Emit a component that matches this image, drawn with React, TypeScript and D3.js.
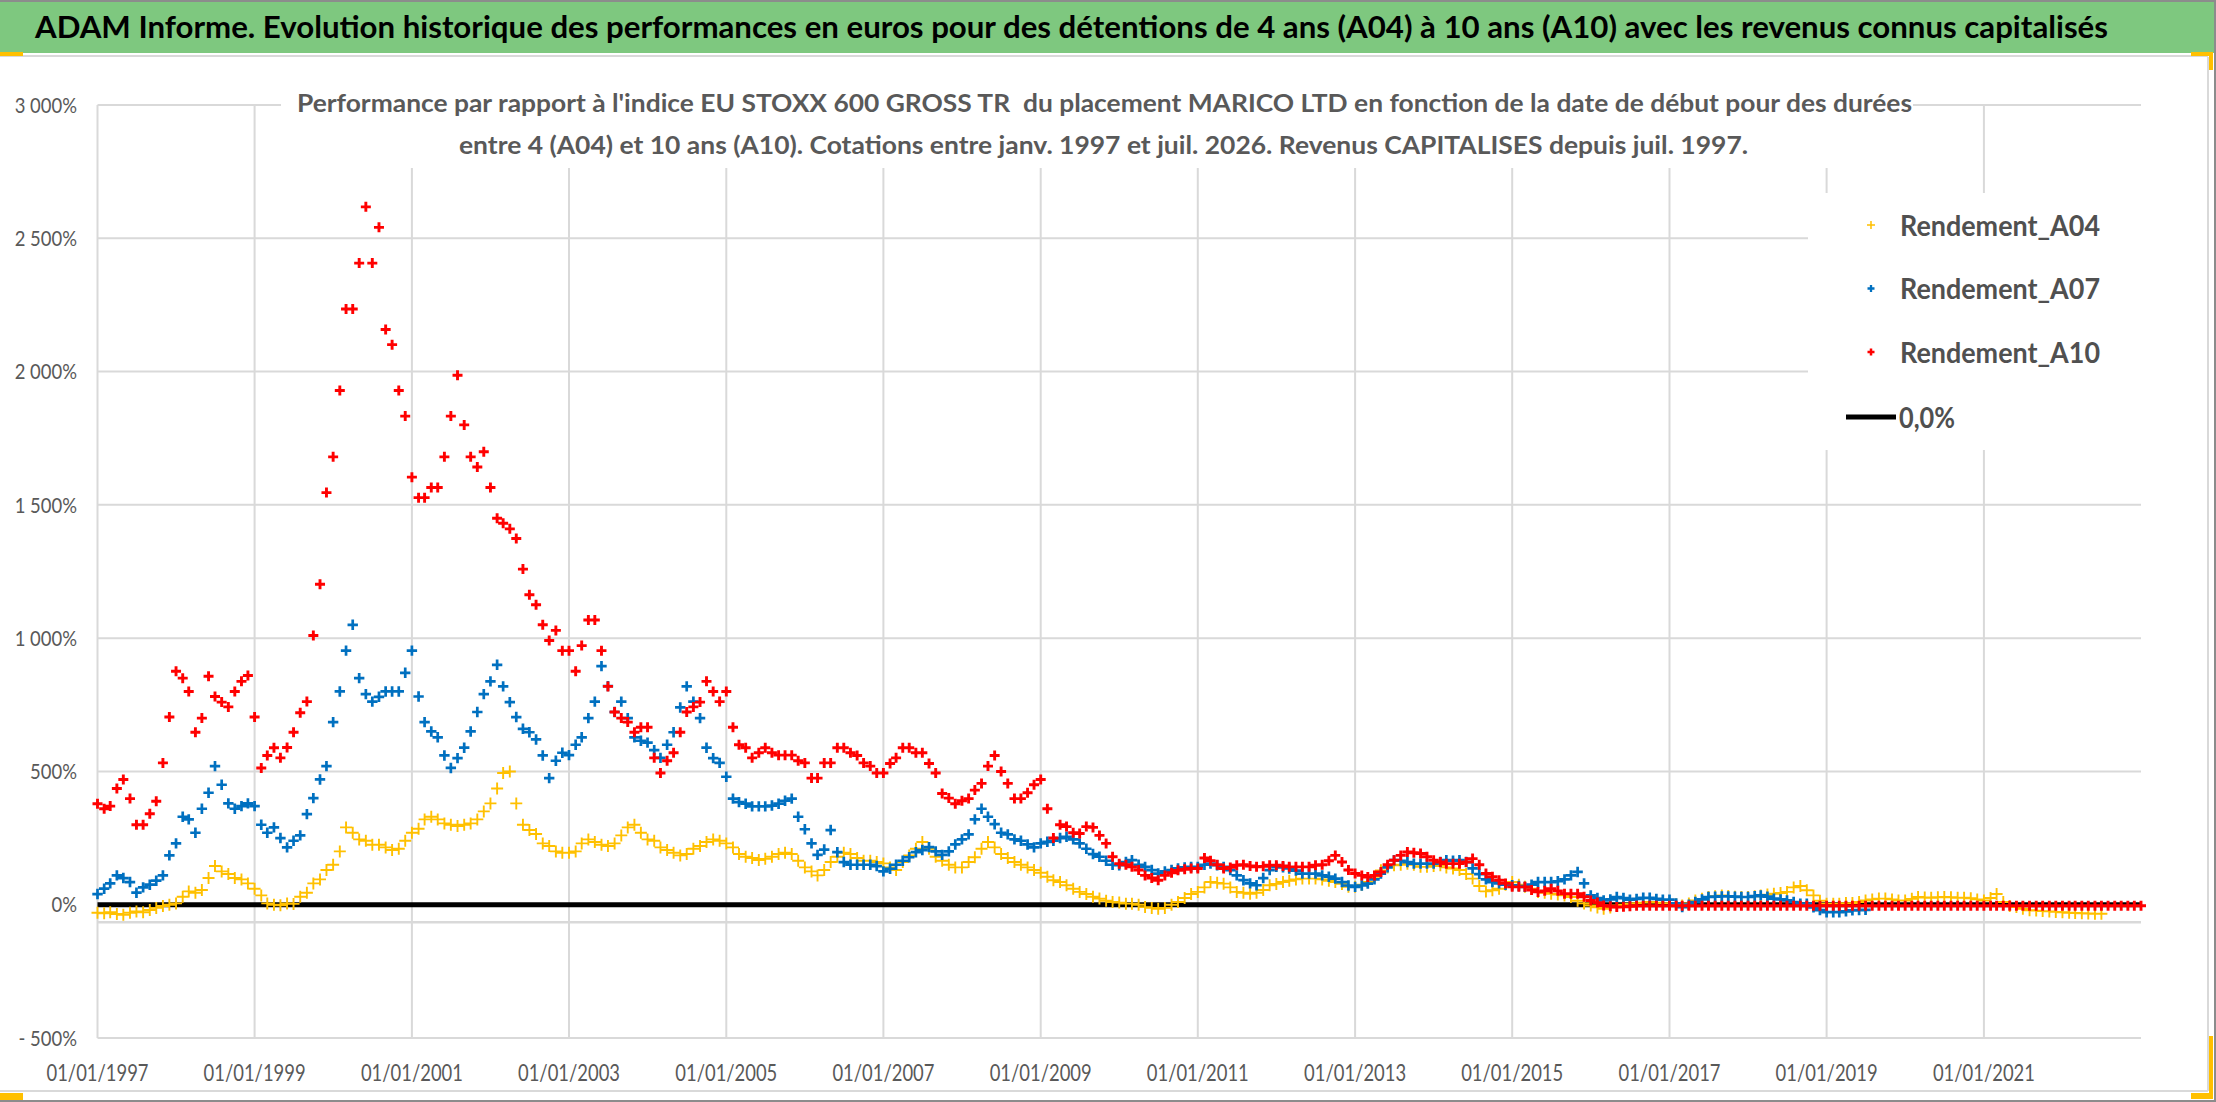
import React from "react";
import * as d3 from "d3";

const WIDTH = 2216;
const HEIGHT = 1102;

const titleText =
  "ADAM Informe. Evolution historique des performances en euros pour des détentions de 4 ans (A04) à 10 ans (A10) avec les revenus connus capitalisés";
const subtitleLines = [
  "Performance par rapport à l'indice EU STOXX 600 GROSS TR  du placement MARICO LTD en fonction de la date de début pour des durées",
  "entre 4 (A04) et 10 ans (A10). Cotations entre janv. 1997 et juil. 2026. Revenus CAPITALISES depuis juil. 1997.",
];
const seriesNames = ["Rendement_A04", "Rendement_A07", "Rendement_A10"];
const zeroSeriesName = "0,0%";
const seriesColors = ["#FFC000", "#0070C0", "#FF0000"];
const yTickValues = [-500, 0, 500, 1000, 1500, 2000, 2500, 3000];
const xTickYears = [1997, 1999, 2001, 2003, 2005, 2007, 2009, 2011, 2013, 2015, 2017, 2019, 2021];
const xDomainYears = [1997, 2023];
const yDomain = [-500, 3000];
const axisCrossValue = -66;
const zeroValue = 0;

// monthly values (%), first value = January 1997
const a04 = [
  -30, -32, -28, -35, -38, -30, -25, -28, -20, -12, -5, 0,
  5, 30, 50, 45, 55, 100, 145, 125, 115, 100, 95, 80,
  60, 35, 5, 0, -2, 5, 3, 30, 45, 80, 95, 130,
  150, 200, 290, 270, 245, 240, 225, 225, 215, 205, 210, 240,
  270, 285, 320, 330, 320, 305, 300, 295, 300, 305, 320, 350,
  380, 436, 494, 500, 380, 300, 280, 265, 230, 220, 200, 195,
  195, 200, 230, 245, 235, 225, 220, 230, 260, 290, 300, 270,
  245, 240, 215, 205, 195, 185, 190, 210, 220, 235, 245, 240,
  230, 215, 190, 180, 175, 168, 172, 180, 190, 195, 190, 165,
  140, 125, 110, 130, 160, 180, 195, 190, 175, 165, 165, 160,
  155, 140, 130, 160, 185, 210, 235, 210, 180, 165, 150, 140,
  140, 160, 178, 210, 235, 215, 190, 175, 160, 150, 140, 130,
  120, 105, 92, 85, 73, 60, 48, 40, 30, 23, 15, 10,
  8, 4, 4, 0, -9, -12, -15, -12, 0, 10, 25, 40,
  48, 65, 85, 82, 79, 65, 48, 45, 41, 45, 55, 73,
  78, 85, 90, 95, 98, 98, 98, 95, 90, 85, 78, 67,
  67, 75, 85, 105, 129, 140, 148, 150, 154, 150, 142, 142,
  145, 148, 140, 136, 130, 115, 98, 70, 50, 54, 60, 75,
  85, 75, 67, 60, 48, 45, 41, 38, 35, 29, 15, 5,
  -3, -10, -15, -10, -3, 0, 4, 6, 8, 10, 8, 6,
  6, 2, -3, 5, 16, 22, 29, 32, 35, 33, 30, 29,
  29, 32, 35, 38, 41, 44, 48, 65, 70, 54, 35, 15,
  4, 4, 4, 6, 6, 10, 16, 20, 23, 23, 20, 16,
  16, 22, 29, 27, 26, 28, 29, 28, 26, 26, 24, 20,
  16, 25, 40, 10, -5, -9, -15, -21, -22, -24, -25, -27,
  -28, -30, -31, -32, -33, -34, -34,
];

const a07 = [
  40, 60, 80, 110, 100, 85, 45, 65, 75, 90, 110, 185,
  230, 330, 320, 270, 360, 420, 520, 450, 380, 360, 370, 380,
  370, 300, 270, 290, 250, 215, 240, 260, 340, 400, 470, 520,
  685, 800, 953, 1050, 850, 790, 762, 780, 800, 800, 800, 870,
  953, 781, 685, 650, 628, 560, 513, 550, 589, 650, 723, 790,
  838, 900, 819, 760, 704, 660, 647, 620, 560, 475, 540, 570,
  561, 600, 628, 700, 762, 895, 820, 723, 762, 700, 628, 615,
  608, 580, 551, 600, 647, 740, 819, 762, 700, 589, 550, 532,
  480, 398, 385, 379, 369, 369, 369, 372, 379, 390, 398, 330,
  283, 230, 187, 207, 280, 197, 160, 150, 150, 150, 150, 145,
  125, 135, 150, 165, 178, 197, 205, 216, 200, 187, 200, 226,
  245, 264, 320, 360, 330, 302, 270, 264, 245, 240, 226, 215,
  230, 236, 240, 250, 255, 245, 230, 210, 190, 180, 165, 150,
  148, 160, 167, 150, 142, 130, 117, 125, 130, 136, 140, 142,
  142, 150, 154, 148, 142, 130, 110, 92, 80, 73, 100, 130,
  142, 140, 136, 128, 117, 117, 117, 110, 105, 98, 85, 72,
  67, 72, 79, 95, 117, 140, 167, 165, 160, 154, 154, 154,
  154, 160, 167, 165, 167, 160, 136, 115, 95, 85, 80, 75,
  73, 70, 67, 75, 85, 85, 85, 88, 95, 110, 123, 80,
  35, 25, 16, 20, 29, 25, 19, 22, 26, 26, 22, 19,
  19, 5, -9, 0, 10, 20, 29, 30, 31, 31, 30, 29,
  29, 32, 35, 30, 23, 20, 16, 10, 4, 4, -10, -20,
  -28, -28, -28, -25, -21, -20, -19,
];

const a10 = [
  379, 360, 370, 436, 470, 398, 300, 300, 341, 388, 532, 704,
  876, 850, 800, 647, 700, 857, 781, 760, 742, 800, 838, 860,
  704, 513, 560, 589, 551, 590, 647, 720, 762, 1010, 1202, 1546,
  1680, 1929, 2235, 2235, 2407, 2618, 2407, 2541, 2158, 2101, 1929, 1833,
  1604, 1527, 1527, 1565, 1565, 1680, 1833, 1986, 1800, 1680, 1642, 1699,
  1565, 1450, 1431, 1410, 1374, 1259, 1163, 1125, 1050, 991, 1029, 953,
  953, 876, 972, 1068, 1068, 953, 819, 723, 700, 685, 647, 666,
  666, 551, 494, 540, 570, 647, 723, 742, 760, 838, 800, 762,
  800, 666, 600, 589, 551, 570, 589, 570, 561, 561, 561, 540,
  532, 475, 475, 532, 532, 589, 589, 570, 560, 532, 520, 494,
  494, 530, 551, 589, 589, 570, 570, 530, 494, 417, 400, 379,
  390, 398, 430, 455, 520, 560, 500, 455, 398, 398, 420, 450,
  470, 360, 250, 300, 293, 270, 267, 293, 290, 260, 230, 180,
  154, 150, 142, 130, 110, 100, 92, 110, 120, 129, 133, 136,
  136, 175, 165, 150, 136, 140, 148, 150, 145, 142, 144, 148,
  148, 145, 142, 142, 142, 142, 148, 150, 165, 185, 160, 130,
  117, 110, 104, 110, 123, 150, 167, 185, 198, 195, 192, 180,
  167, 160, 154, 154, 154, 160, 173, 150, 117, 105, 92, 80,
  67, 67, 67, 55, 48, 52, 60, 52, 41, 41, 41, 30,
  16, 8, -3, -6, -9, -8, -6, -4, -4, -4, -4, -4,
  -4, -4, -4, -4, -4, -4, -4, -4, -4, -4, -4, -4,
  -4, -4, -4, -4, -4, -4, -4, -4, -4, -4, -4, -4,
  -4, -4, -4, -4, -4, -4, -4, -4, -4, -4, -4, -4,
  -4, -4, -4, -4, -4, -4, -4, -4, -4, -4, -4, -4,
  -4, -4, -4, -4, -4, -4, -4, -4, -4, -4, -4, -4,
  -4, -4, -4, -4, -4, -4, -4, -4, -4, -4, -4, -4,
  -4,
];

const seriesValues = [a04, a07, a10];

const FONT = "Lato, 'Open Sans', 'DejaVu Sans', sans-serif";
const PLOT = { left: 97.5, right: 2141, top: 105, bottom: 1038 };
const MARKERS = [
  { half: 6, width: 1.9, legendHalf: 4 },
  { half: 5.2, width: 2.7, legendHalf: 3.5 },
  { half: 5, width: 2.9, legendHalf: 3.5 },
];

const locale = d3.formatLocale({
  decimal: ",",
  thousands: " ",
  grouping: [3],
  currency: ["", " €"],
  minus: "- ",
});
const fmtInt = locale.format(",");
const fmtY = (v: number) => fmtInt(v) + "%";
const fmtX = d3.timeFormat("%d/%m/%Y");

export default function App() {
  const x = d3
    .scaleTime()
    .domain([new Date(xDomainYears[0], 0, 1), new Date(xDomainYears[1], 0, 1)])
    .range([PLOT.left, PLOT.right]);
  const y = d3.scaleLinear().domain(yDomain).range([PLOT.bottom, PLOT.top]);
  const start = new Date(xDomainYears[0], 0, 1);

  const crossPath = (vals: number[], half: number) =>
    vals
      .map((v, i) => {
        const px = x(d3.timeMonth.offset(start, i));
        const py = y(v);
        return `M${px - half},${py}H${px + half}M${px},${py - half}V${py + half}`;
      })
      .join("");

  const xTicks = xTickYears.map((yr) => new Date(yr, 0, 1));
  const grid = "#D9D9D9";
  const textGray = "#595959";

  return (
    <svg
      width={WIDTH}
      height={HEIGHT}
      viewBox={`0 0 ${WIDTH} ${HEIGHT}`}
      style={{ position: "absolute", left: 0, top: 0, background: "#fff", fontFamily: FONT }}
    >
      <rect x={0} y={0} width={WIDTH} height={HEIGHT} fill="#fff" />

      {/* gridlines */}
      {xTicks.map((d, i) => (
        <line key={"vx" + i} x1={x(d)} x2={x(d)} y1={PLOT.top} y2={PLOT.bottom} stroke={grid} strokeWidth={2} />
      ))}
      {yTickValues.map((v) => (
        <line key={"hy" + v} x1={PLOT.left} x2={PLOT.right} y1={y(v)} y2={y(v)} stroke={grid} strokeWidth={2} />
      ))}
      <line
        x1={PLOT.left}
        x2={PLOT.right}
        y1={y(axisCrossValue)}
        y2={y(axisCrossValue)}
        stroke={grid}
        strokeWidth={2.5}
      />

      {/* zero line */}
      <line
        x1={x(new Date(xDomainYears[0], 0, 1))}
        x2={x(new Date(xDomainYears[1], 0, 1))}
        y1={y(zeroValue)}
        y2={y(zeroValue)}
        stroke="#000"
        strokeWidth={5}
      />

      {/* series */}
      {seriesValues.map((vals, si) => (
        <path
          key={"s" + si}
          d={crossPath(vals, MARKERS[si].half)}
          stroke={seriesColors[si]}
          strokeWidth={MARKERS[si].width}
          fill="none"
        />
      ))}

      {/* subtitle box */}
      <rect x={281} y={70} width={1632} height={98} fill="#fff" />
      {subtitleLines.map((t, i) => (
        <text
          key={"st" + i}
          x={i === 0 ? 297 : 459}
          y={i === 0 ? 112 : 154}
          fontSize={24}
          fontWeight="bold"
          fill={textGray}
          textLength={i === 0 ? 1615 : 1289}
          lengthAdjust="spacingAndGlyphs"
          style={{ whiteSpace: "pre" }}
        >
          {t}
        </text>
      ))}

      {/* legend */}
      <rect x={1808} y={193} width={336} height={257} fill="#fff" />
      {seriesNames.map((n, i) => {
        const cy = 225 + i * 63.5;
        const h = MARKERS[i].legendHalf;
        return (
          <g key={"lg" + i}>
            <path
              d={`M${1871 - h},${cy}H${1871 + h}M1871,${cy - h}V${cy + h}`}
              stroke={seriesColors[i]}
              strokeWidth={MARKERS[i].width - 0.4}
            />
            <text
              x={1900}
              y={cy + 10.5}
              fontSize={29}
              fontWeight="bold"
              fill="#505050"
              textLength={200}
              lengthAdjust="spacingAndGlyphs"
            >
              {n}
            </text>
          </g>
        );
      })}
      <line x1={1846} x2={1896} y1={417} y2={417} stroke="#000" strokeWidth={5} />
      <text
        x={1899}
        y={428}
        fontSize={29}
        fontWeight="bold"
        fill="#505050"
        textLength={56}
        lengthAdjust="spacingAndGlyphs"
      >
        {zeroSeriesName}
      </text>

      {/* y axis labels */}
      {yTickValues.map((v) => (
        <text
          key={"yl" + v}
          transform={`translate(77,${y(v)}) scale(0.84,1)`}
          textAnchor="end"
          dy="0.35em"
          fontSize={22}
          fill={textGray}
        >
          {fmtY(v)}
        </text>
      ))}

      {/* x axis labels */}
      {xTicks.map((d, i) => (
        <text
          key={"xl" + i}
          x={x(d)}
          y={1081}
          textAnchor="middle"
          fontSize={23}
          fill={textGray}
          textLength={102}
          lengthAdjust="spacingAndGlyphs"
        >
          {fmtX(d)}
        </text>
      ))}

      {/* title bar */}
      <rect x={0} y={2} width={WIDTH} height={51} fill="#7EC87F" />
      <line x1={0} x2={2208} y1={56} y2={56} stroke="#D9D9D9" strokeWidth={2} />
      <text
        x={35}
        y={38}
        fontSize={31}
        fontWeight="bold"
        fill="#000"
        textLength={2073}
        lengthAdjust="spacingAndGlyphs"
      >
        {titleText}
      </text>

      {/* chart frame */}
      <line x1={2208} x2={2208} y1={57} y2={1091} stroke="#D9D9D9" strokeWidth={2} />
      <line x1={0} x2={2208} y1={1091} y2={1091} stroke="#D9D9D9" strokeWidth={2} />
      <rect x={0} y={52} width={23} height={4} fill="#FFC000" />
      <rect x={2191} y={52} width={22} height={4} fill="#FFC000" />
      <rect x={2209} y={52} width={4} height={18} fill="#FFC000" />
      <rect x={2191} y={1093} width={22} height={6} fill="#FFC000" />
      <rect x={2209} y={1036} width={4} height={63} fill="#FFC000" />
      <rect x={0} y={1093} width={23} height={7} fill="#FFC000" />
      <line x1={0} x2={WIDTH} y1={1} y2={1} stroke="#8C8C8C" strokeWidth={2} />
      <line x1={WIDTH - 1} x2={WIDTH - 1} y1={0} y2={HEIGHT} stroke="#8C8C8C" strokeWidth={2} />
      <line x1={0} x2={WIDTH} y1={HEIGHT - 1} y2={HEIGHT - 1} stroke="#8C8C8C" strokeWidth={2} />
    </svg>
  );
}
